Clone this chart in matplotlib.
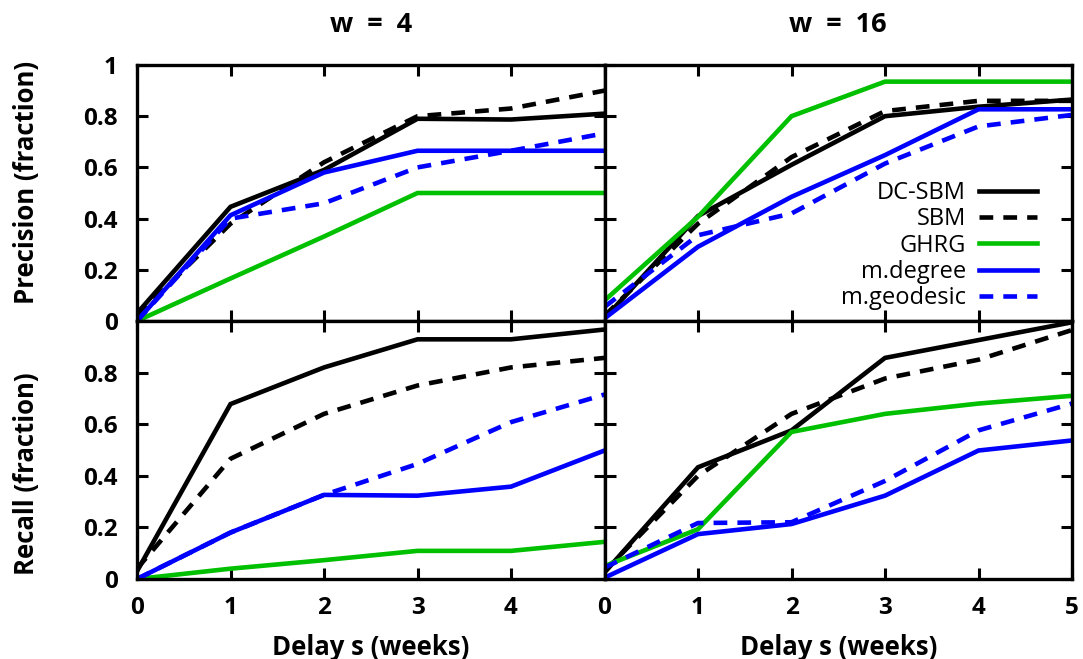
import matplotlib.pyplot as plt

plt.rcParams['font.family'] = ['Open Sans', 'DejaVu Sans']

delay = [0, 1, 2, 3, 4, 5]
names = ["DC-SBM", "SBM", "GHRG", "m.degree", "m.geodesic"]

# precision, w = 4
prec_w4 = {
    "DC-SBM": [0.03, 0.446, 0.59, 0.79, 0.787, 0.81],
    "SBM": [0.02, 0.38, 0.62, 0.80, 0.83, 0.90],
    "GHRG": [0.0, 0.166, 0.33, 0.50, 0.50, 0.50],
    "m.degree": [0.0, 0.413, 0.58, 0.665, 0.665, 0.665],
    "m.geodesic": [0.0, 0.40, 0.46, 0.60, 0.665, 0.733],
}
# precision, w = 16
prec_w16 = {
    "DC-SBM": [0.01, 0.41, 0.61, 0.80, 0.837, 0.865],
    "SBM": [0.02, 0.38, 0.64, 0.82, 0.86, 0.86],
    "GHRG": [0.08, 0.407, 0.80, 0.935, 0.935, 0.935],
    "m.degree": [0.01, 0.29, 0.485, 0.648, 0.827, 0.827],
    "m.geodesic": [0.055, 0.335, 0.42, 0.615, 0.76, 0.805],
}
# recall, w = 4
rec_w4 = {
    "DC-SBM": [0.03, 0.678, 0.82, 0.929, 0.929, 0.967],
    "SBM": [0.04, 0.466, 0.64, 0.75, 0.82, 0.857],
    "GHRG": [0.0, 0.04, 0.073, 0.109, 0.109, 0.144],
    "m.degree": [0.0, 0.18, 0.326, 0.323, 0.358, 0.498],
    "m.geodesic": [0.0, 0.18, 0.326, 0.446, 0.608, 0.715],
}
# recall, w = 16
rec_w16 = {
    "DC-SBM": [0.025, 0.433, 0.576, 0.857, 0.926, 0.995],
    "SBM": [0.03, 0.40, 0.64, 0.777, 0.85, 0.965],
    "GHRG": [0.05, 0.193, 0.57, 0.64, 0.68, 0.71],
    "m.degree": [0.005, 0.174, 0.213, 0.323, 0.498, 0.537],
    "m.geodesic": [0.044, 0.217, 0.22, 0.38, 0.576, 0.68],
}

dash = (0, (3.0, 2.2))
styles = {
    "DC-SBM": ("black", "-"),
    "SBM": ("black", dash),
    "GHRG": ("#00c000", "-"),
    "m.degree": ("#0000ff", "-"),
    "m.geodesic": ("#0000ff", dash),
}

fig = plt.figure(figsize=(10.83, 6.59), dpi=100)
x0, w = 137 / 1083, 467.5 / 1083
ytop, ybot = 1 - 321 / 659, 1 - 579 / 659
htop, hbot = 256 / 659, 258 / 659

ax_tl = fig.add_axes([x0, ytop, w, htop])
ax_tr = fig.add_axes([x0 + w, ytop, w, htop])
ax_bl = fig.add_axes([x0, ybot, w, hbot])
ax_br = fig.add_axes([x0 + w, ybot, w, hbot])

panels = [(ax_tl, prec_w4), (ax_tr, prec_w16), (ax_bl, rec_w4), (ax_br, rec_w16)]
for ax, data in panels:
    for name in names:
        c, ls = styles[name]
        ax.plot(delay, data[name], color=c, linestyle=ls, lw=3.3, label=name,
                solid_joinstyle='miter', dash_capstyle='butt')
    ax.set_xlim(0, 5)
    ax.set_ylim(0, 1)
    ax.set_xticks(delay)
    ax.set_yticks([0, 0.2, 0.4, 0.6, 0.8, 1.0])
    ax.tick_params(direction='in', length=8, width=2.2, top=True, right=True,
                   labelsize=17.5)
    ax.tick_params(axis='y', pad=14)
    ax.tick_params(axis='x', pad=12)
    for sp in ax.spines.values():
        sp.set_linewidth(2.4)

ax_tl.set_yticklabels(['0', '0.2', '0.4', '0.6', '0.8', '1'], fontweight='bold')
ax_bl.set_yticklabels(['0', '0.2', '0.4', '0.6', '0.8', ''], fontweight='bold')
ax_bl.set_xticklabels(['0', '1', '2', '3', '4', ''], fontweight='bold')
ax_br.set_xticklabels(['0', '1', '2', '3', '4', '5'], fontweight='bold')
for ax in (ax_tl, ax_tr):
    ax.tick_params(labelbottom=False)
for ax in (ax_tr, ax_br):
    ax.tick_params(labelleft=False)

ax_tl.set_title("w  =  4", fontsize=19.5, fontweight='bold', pad=24)
ax_tr.set_title("w  =  16", fontsize=19.5, fontweight='bold', pad=24)
ax_tl.set_ylabel("Precision (fraction)", fontsize=18.5, fontweight='bold')
ax_bl.set_ylabel("Recall (fraction)", fontsize=18.5, fontweight='bold')
ax_tl.yaxis.set_label_coords(-0.208, 0.543)
ax_bl.yaxis.set_label_coords(-0.208, 0.409)
ax_bl.set_xlabel("Delay s (weeks)", fontsize=18.5, fontweight='bold', labelpad=10)
ax_br.set_xlabel("Delay s (weeks)", fontsize=18.5, fontweight='bold', labelpad=10)

leg = ax_tr.legend(loc='lower right', bbox_to_anchor=(0.95, -0.005), frameon=False,
                   markerfirst=False, fontsize=17, handlelength=2.45,
                   handletextpad=0.55, labelspacing=0.1, borderpad=0)
for t in leg.get_texts():
    t.set_ha('right')

fig.savefig("out.png", dpi=100)
